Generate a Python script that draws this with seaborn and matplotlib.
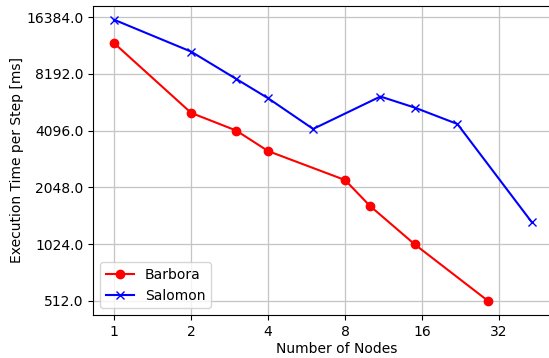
import matplotlib
matplotlib.use("Agg")
import matplotlib.pyplot as plt
import seaborn as sns
import pandas as pd
import numpy as np
from matplotlib.ticker import FixedLocator, FixedFormatter, NullLocator

barbora_nodes = [1, 2, 3, 4, 8, 10, 15, 29]
barbora_time = [11900, 5085, 4100, 3190, 2240, 1635, 1020, 512]
salomon_nodes = [1, 2, 3, 4, 6, 11, 15, 22, 43]
salomon_time = [15850, 10740, 7700, 6080, 4180, 6210, 5420, 4440, 1338]

x_ticks = [1, 2, 4, 8, 16, 32]
y_ticks = [512, 1024, 2048, 4096, 8192, 16384]

df_b = pd.DataFrame({"nodes": barbora_nodes, "time": barbora_time})
df_s = pd.DataFrame({"nodes": salomon_nodes, "time": salomon_time})

W, H = 549, 358
left_px, right_px = 93.3, 580.0
fig = plt.figure(figsize=(W / 100, H / 100), dpi=100)
ax = fig.add_axes([left_px / W, 43 / H, (right_px - left_px) / W, (315 - 5.7) / H])

sns.lineplot(data=df_b, x="nodes", y="time", ax=ax, color="red", marker="o",
             markeredgecolor="red", markeredgewidth=1, markersize=6,
             linewidth=1.5, label="Barbora", estimator=None)
sns.lineplot(data=df_s, x="nodes", y="time", ax=ax, color="blue", marker="x",
             markeredgecolor="blue", markeredgewidth=1, markersize=6,
             linewidth=1.5, label="Salomon", estimator=None)

ax.set_xscale("log", base=2)
ax.set_yscale("log", base=2)

all_x = np.log2(barbora_nodes + salomon_nodes)
all_y = np.log2(barbora_time + salomon_time)
mx = 0.05 * (all_x.max() - all_x.min())
my = 0.05 * (all_y.max() - all_y.min())
x_lo = all_x.min() - mx
x_span_visible = (all_x.max() + mx) - x_lo          # span that maps to 93.3..552.7 px
px_per_oct = (552.7 - left_px) / x_span_visible
x_hi = x_lo + (right_px - left_px) / px_per_oct
ax.set_xlim(2 ** x_lo, 2 ** x_hi)
ax.set_ylim(2 ** (all_y.min() - my), 2 ** (all_y.max() + my))

ax.xaxis.set_major_locator(FixedLocator(x_ticks))
ax.xaxis.set_major_formatter(FixedFormatter([str(t) for t in x_ticks]))
ax.xaxis.set_minor_locator(NullLocator())
ax.yaxis.set_major_locator(FixedLocator(y_ticks))
ax.yaxis.set_major_formatter(FixedFormatter([f"{t:.1f}" for t in y_ticks]))
ax.yaxis.set_minor_locator(NullLocator())
ax.grid(True, color="#c4c4c4", linewidth=0.9)
ax.set_axisbelow(True)
ax.set_xlabel("Number of Nodes", labelpad=2.5)
ax.set_ylabel("Execution Time per Step [ms]", labelpad=1.5)
ax.legend(loc="lower left")

fig.savefig("out.png", dpi=100)
